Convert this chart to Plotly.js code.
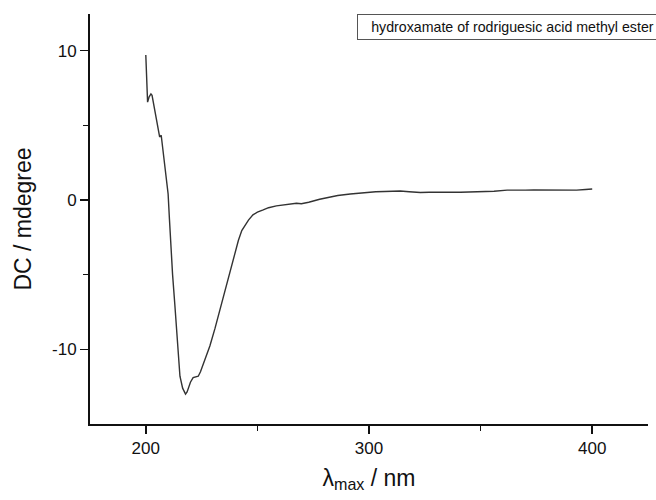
<!DOCTYPE html>
<html>
<head>
<meta charset="utf-8">
<script src="https://cdn.plot.ly/plotly-3.0.1.min.js"></script>
<style>html,body{margin:0;padding:0;background:#fff;}#chart{width:656px;height:500px;}</style>
</head>
<body>
<div id="chart"></div>
<script>
const wavelength = [200, 200.8, 201.5, 202.3, 202.8, 203.5, 204.5, 205.5, 206.2, 206.9, 208, 209, 210, 210.6, 211.2, 212, 213, 214, 215.3, 216.5, 217.8, 218.5, 219, 220, 221.2, 222.5, 223.5, 224.5, 225.7, 227, 228.7, 231, 233.2, 236, 238, 240, 241.5, 243, 244.5, 246, 248, 250, 252.6, 255, 258.5, 262, 265, 267.5, 269.7, 273, 277.9, 282, 286, 291.6, 295, 299.1, 303, 307, 310, 314, 318, 323, 327, 331, 336.5, 341, 346, 351.4, 356, 361.9, 366, 370, 373.8, 378, 383, 388.8, 393, 397, 400];
const cd = [9.7, 6.55, 6.9, 7.1, 7.0, 6.4, 5.5, 4.6, 4.22, 4.33, 3.0, 1.8, 0.4, -1.3, -3.2, -5.0, -7.0, -9.1, -11.8, -12.6, -13.0, -12.85, -12.6, -12.2, -11.9, -11.85, -11.8, -11.5, -11.0, -10.5, -9.78, -8.6, -7.33, -5.9, -4.7, -3.5, -2.7, -2.05, -1.7, -1.35, -1.0, -0.82, -0.67, -0.52, -0.4, -0.32, -0.28, -0.22, -0.25, -0.15, 0.05, 0.2, 0.3, 0.4, 0.45, 0.5, 0.55, 0.57, 0.58, 0.6, 0.55, 0.5, 0.52, 0.5, 0.52, 0.52, 0.53, 0.55, 0.58, 0.66, 0.64, 0.66, 0.67, 0.66, 0.65, 0.62, 0.66, 0.7, 0.73];
const xTicks = [200, 300, 400];
const yTicks = [-10, 0, 10];
const legendText = "hydroxamate of rodriguesic acid methyl ester";

const font = "Liberation Sans, Arial, sans-serif";
const trace = {
  x: wavelength, y: cd, type: "scatter", mode: "lines",
  line: {color: "#333333", width: 1.4}, showlegend: false, hoverinfo: "none"
};
const layout = {
  width: 656, height: 500,
  margin: {l: 90, r: 8, t: 14, b: 76},
  paper_bgcolor: "#fff", plot_bgcolor: "#fff",
  font: {family: font, color: "#111"},
  xaxis: {
    range: [175, 425], showgrid: false, zeroline: false,
    showline: true, linecolor: "#111", linewidth: 2,
    tickmode: "array", tickvals: xTicks, ticktext: xTicks.map(String),
    ticks: "outside", ticklen: 8, tickwidth: 1.5, tickcolor: "#111",
    minor: {tickvals: [250, 350], ticks: "outside", ticklen: 5, tickwidth: 1.5, tickcolor: "#111", showgrid: false},
    tickfont: {size: 17, family: font, color: "#111"},
    title: {text: "λ<sub>max</sub> / nm", font: {size: 23, family: font, color: "#111"}, standoff: 12}
  },
  yaxis: {
    range: [-15, 12.45], showgrid: false, zeroline: false,
    showline: true, linecolor: "#111", linewidth: 2,
    tickmode: "array", tickvals: yTicks, ticktext: yTicks.map(String),
    ticks: "outside", ticklen: 8, tickwidth: 1.5, tickcolor: "#111",
    minor: {tickvals: [-5, 5], ticks: "outside", ticklen: 5, tickwidth: 1.5, tickcolor: "#111", showgrid: false},
    tickfont: {size: 17, family: font, color: "#111"},
    title: {text: "DC / mdegree", font: {size: 23, family: font, color: "#111"}, standoff: 14}
  },
  annotations: [{
    xref: "paper", yref: "paper", x: (357 - 90) / 558, y: 1,
    xanchor: "left", yanchor: "top", showarrow: false,
    text: legendText, font: {size: 14.2, family: font, color: "#111"},
    width: 301, align: "center",
    bordercolor: "#555", borderwidth: 1, borderpad: 4, bgcolor: "#fff"
  }]
};
Plotly.newPlot("chart", [trace], layout, {displayModeBar: false, staticPlot: true});
</script>
</body>
</html>
